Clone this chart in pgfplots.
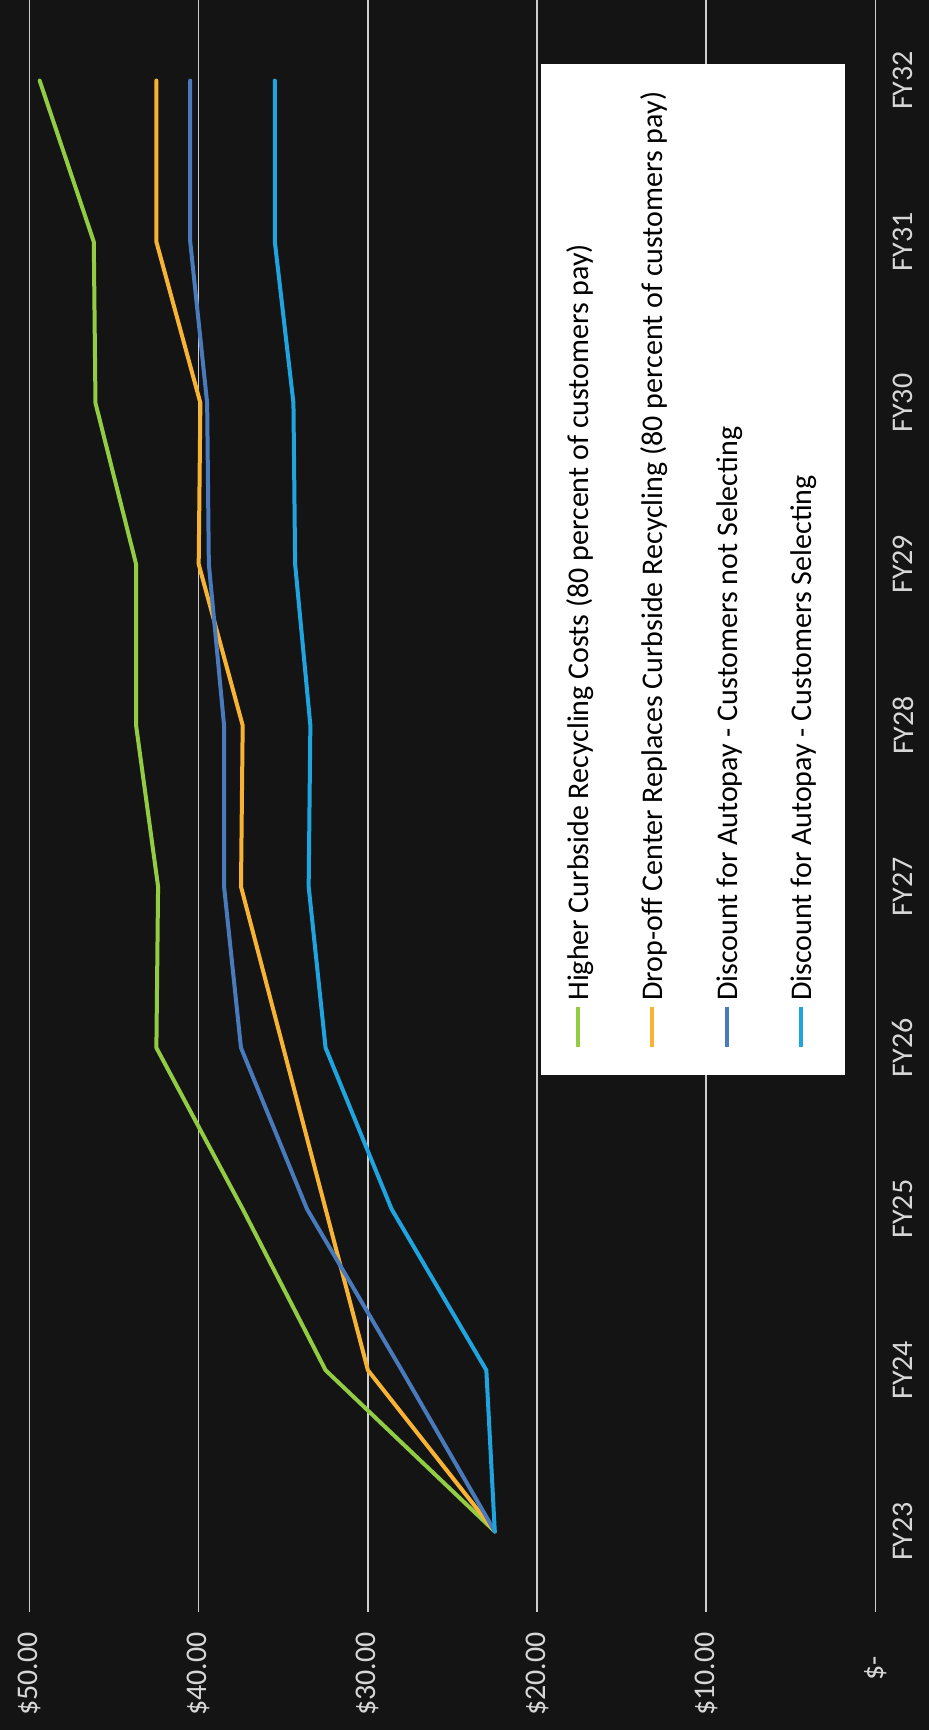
\documentclass[border=0pt]{standalone}
\usepackage{pgfplots}
\pgfplotsset{compat=1.18}
\usepackage{fontspec}
\setmainfont{Carlito}
\definecolor{bg}{RGB}{20,20,20}
\definecolor{gridc}{RGB}{205,205,205}
\definecolor{labc}{RGB}{215,215,215}
\definecolor{cgreen}{RGB}{146,204,66}
\definecolor{corange}{RGB}{247,180,52}
\definecolor{cdblue}{RGB}{72,122,188}
\definecolor{clblue}{RGB}{32,164,224}
\newcommand{\legline}[1]{\textcolor{#1}{\rule[0.28em]{20pt}{2pt}}\hspace{3pt}}
\begin{document}
\begin{tikzpicture}
\useasboundingbox (0,0) rectangle (464.5pt,865pt);
\fill[bg] (0,0) rectangle (464.5pt,865pt);
\begin{axis}[
  at={(14.75pt,59pt)}, anchor=south west,
  scale only axis, width=423pt, height=806pt,
  x dir=reverse, xmin=0, xmax=50, ymin=-0.5, ymax=9.5,
  axis line style={draw=none},
  xmajorgrids, grid style={draw=gridc, line width=0.8pt},
  major tick length=0pt,
  xtick={0,10,20,30,40,50},
  xticklabels={\$-\hspace*{0.8em},\$10.00,\$20.00,\$30.00,\$40.00,\$50.00},
  ytick={0,1,2,3,4,5,6,7,8,9},
  yticklabels={FY23,FY24,FY25,FY26,FY27,FY28,FY29,FY30,FY31,FY32},
  yticklabel pos=right,
  tick label style={font=\fontsize{15}{18}\selectfont, text=labc},
  xticklabel style={rotate=90, anchor=east},
  yticklabel style={rotate=90, anchor=north},
  xticklabel shift=6.5pt,
  yticklabel shift=5pt,
  every axis plot/.append style={line width=2pt, line join=round, line cap=round},
]
\addplot[cgreen] coordinates {(22.5,0) (32.5,1) (37.4,2) (42.5,3) (42.4,4) (43.7,5) (43.7,6) (46.1,7) (46.2,8) (49.4,9)};
\addplot[corange] coordinates {(22.5,0) (30.0,1) (32.5,2) (35.0,3) (37.5,4) (37.4,5) (40.0,6) (39.9,7) (42.5,8) (42.5,9)};
\addplot[cdblue] coordinates {(22.5,0) (28.0,1) (33.6,2) (37.5,3) (38.5,4) (38.5,5) (39.4,6) (39.5,7) (40.5,8) (40.5,9)};
\addplot[clblue] coordinates {(22.5,0) (23.0,1) (28.6,2) (32.5,3) (33.5,4) (33.4,5) (34.3,6) (34.4,7) (35.5,8) (35.5,9)};
\node[rotate=90, anchor=south west, fill=white, inner xsep=14pt, inner ysep=11pt,
      font=\fontsize{15}{18}\selectfont, text=black] at (axis cs:1.8,2.831)
  {\begin{tabular}{@{}l@{}}
   \legline{cgreen}Higher Curbside Recycling Costs (80 percent of customers pay)\\[19.25pt]
   \legline{corange}Drop-off Center Replaces Curbside Recycling (80 percent of customers pay)\\[19.25pt]
   \legline{cdblue}Discount for Autopay - Customers not Selecting\\[19.25pt]
   \legline{clblue}Discount for Autopay - Customers Selecting
   \end{tabular}};
\end{axis}
\end{tikzpicture}
\end{document}
